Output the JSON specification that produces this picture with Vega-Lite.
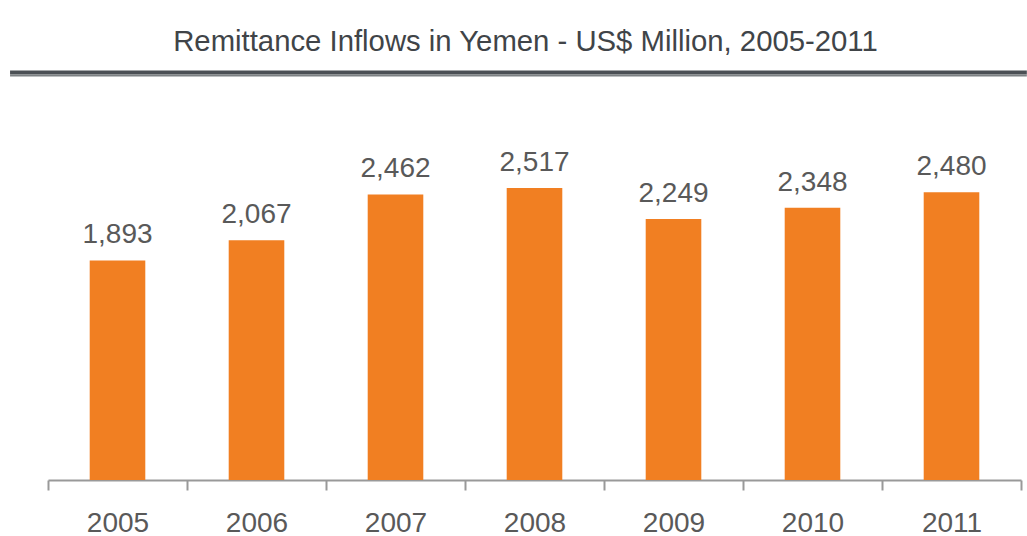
{
  "$schema": "https://vega.github.io/schema/vega-lite/v6.json",
  "autosize": "none",
  "width": 973,
  "height": 348,
  "padding": {"left": 48, "top": 132, "right": 6, "bottom": 56},
  "background": "white",
  "config": {"view": {"stroke": null}, "font": "Liberation Sans"},
  "title": {
    "text": "Remittance Inflows in Yemen - US$ Million, 2005-2011",
    "anchor": "middle",
    "frame": "group",
    "font": "Liberation Sans",
    "fontSize": 29.3,
    "fontWeight": "normal",
    "color": "#404448",
    "offset": 13,
    "dx": -9
  },
  "datasets": {
    "remit": [
      {"year": "2005", "value": 1893},
      {"year": "2006", "value": 2067},
      {"year": "2007", "value": 2462},
      {"year": "2008", "value": 2517},
      {"year": "2009", "value": 2249},
      {"year": "2010", "value": 2348},
      {"year": "2011", "value": 2480}
    ],
    "divider": [
      {"start": -0.039, "end": 1.006, "level": 3513, "part": "dark"},
      {"start": -0.039, "end": 1.006, "level": 3487, "part": "light"}
    ]
  },
  "layer": [
    {
      "data": {"name": "remit"},
      "layer": [
        {
          "mark": {"type": "bar", "color": "#F17F22", "width": {"band": 0.4}},
          "encoding": {
            "x": {
              "field": "year",
              "type": "ordinal",
              "scale": {"paddingInner": 0, "paddingOuter": 0},
              "axis": {
                "title": null,
                "labelAngle": 0,
                "labelFont": "Liberation Sans",
                "labelFontSize": 28,
                "labelColor": "#595959",
                "labelPadding": 19,
                "domainColor": "#999999",
                "domainWidth": 2,
                "tickColor": "#999999",
                "tickWidth": 2,
                "tickSize": 10,
                "tickBand": "extent"
              }
            },
            "y": {
              "field": "value",
              "type": "quantitative",
              "scale": {"domain": [0, 3000], "nice": false},
              "axis": null
            }
          }
        },
        {
          "mark": {"type": "text", "baseline": "alphabetic", "dy": -17, "font": "Liberation Sans", "fontSize": 28, "color": "#595959"},
          "encoding": {
            "x": {"field": "year", "type": "ordinal"},
            "y": {"field": "value", "type": "quantitative"},
            "text": {"field": "value", "type": "quantitative", "format": ","}
          }
        }
      ]
    },
    {
      "data": {"name": "divider"},
      "mark": {"type": "rule", "clip": false},
      "encoding": {
        "x": {"field": "start", "type": "quantitative", "scale": {"domain": [0, 1], "nice": false, "zero": false}, "axis": null},
        "x2": {"field": "end"},
        "y": {"field": "level", "type": "quantitative"},
        "color": {"field": "part", "type": "nominal", "scale": {"domain": ["dark", "light"], "range": ["#4b5055", "#7d8184"]}, "legend": null},
        "strokeWidth": {"field": "part", "type": "nominal", "scale": {"domain": ["dark", "light"], "range": [4, 2]}, "legend": null}
      }
    }
  ],
  "resolve": {"scale": {"x": "independent"}, "axis": {"x": "independent"}}
}
